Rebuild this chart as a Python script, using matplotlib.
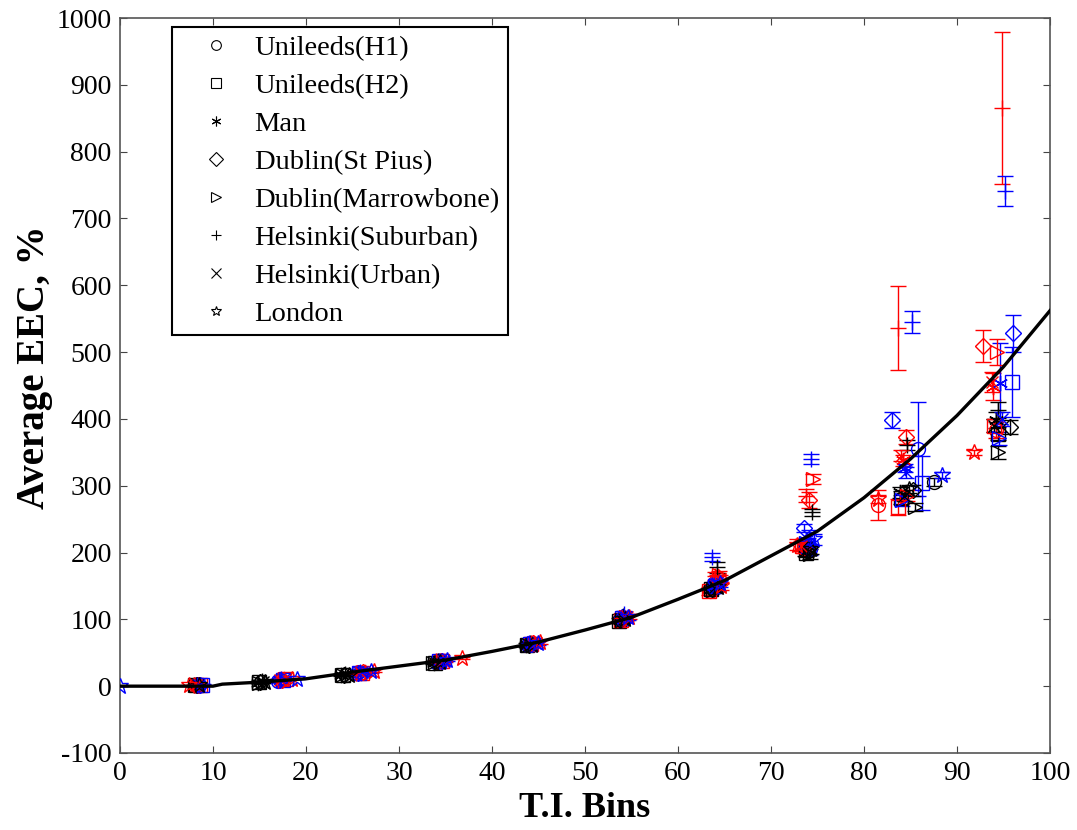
import numpy as np
import matplotlib
matplotlib.use("Agg")
import matplotlib.pyplot as plt
from matplotlib.lines import Line2D

nan = np.nan

# Fitted EEC curve against turbulence intensity
curve_ti = [0, 5, 10, 11, 15, 20, 25, 30, 35, 40, 45, 50, 55, 60, 65, 70, 75, 80, 85, 90, 95, 100]
curve_eec = [0, 0, 0, 3, 6, 11, 21, 30, 39, 52, 66, 84, 103, 130, 158, 195, 232, 282, 340, 405, 478, 562]

site_names = ["Unileeds(H1)", "Unileeds(H2)", "Man", "Dublin(St Pius)",
              "Dublin(Marrowbone)", "Helsinki(Suburban)", "Helsinki(Urban)", "London"]

# Per site: rows are black, red, blue series; columns are the T.I. bins
h1_x = [[8.3, 15.2, 24.3, 34.0, 43.9, 53.9, 63.8, 73.9, 87.5, nan],
        [8.4, 17.3, 25.8, 34.2, 44.3, 54.1, 63.4, 73.6, 81.5, 94.2],
        [8.5, 17.0, 25.5, 34.5, 44.0, 54.2, 64.1, 74.2, 85.8, nan]]
h1_y = [[1, 6, 17, 36, 62, 99, 146, 203, 305, nan],
        [1, 9, 20, 37, 63, 101, 143, 207, 271, 383],
        [1, 8, 19, 37, 62, 100, 148, 205, 355, nan]]
h1_e = [[0.5, 1, 1.5, 2, 3, 4, 5, 7, 6, nan],
        [0.5, 1, 2, 2, 3, 4, 6, 8, 22, 12],
        [0.5, 1, 2, 2, 3, 4, 6, 8, 70, nan]]

h2_x = [[8.2, 15.0, 24.0, 33.9, 43.8, 53.7, 63.6, 73.8, 84.0, 94.4],
        [8.6, 17.8, 26.0, 34.6, 44.2, 53.9, 63.3, 73.3, 83.7, 94.0],
        [8.8, 17.5, 25.7, 34.3, 44.1, 54.0, 64.0, 74.0, 86.2, 95.9]]
h2_y = [[1, 6, 17, 35, 61, 98, 145, 200, 282, 378],
        [1, 10, 20, 37, 63, 99, 142, 210, 268, 390],
        [2, 9, 20, 37, 63, 102, 150, 210, 304, 455]]
h2_e = [[0.5, 1, 1.5, 2, 3, 4, 5, 7, 10, 10],
        [0.5, 1, 2, 2, 3, 4, 6, 8, 12, 10],
        [0.5, 1, 2, 2, 3, 4, 6, 8, 41, 52]]

man_x = [[8.0, 14.8, 23.8, 33.8, 43.7, 53.8, 63.9, 74.1, 83.9, 94.2],
         [8.1, 17.6, 26.3, 34.8, 44.5, 54.3, 64.2, 73.4, 84.2, 93.9],
         [8.4, 17.2, 25.9, 34.4, 44.3, 54.1, 63.9, 74.0, 84.4, 94.6]]
man_y = [[1, 5, 16, 35, 61, 99, 147, 204, 290, 398],
         [1, 10, 21, 38, 64, 102, 160, 212, 338, 448],
         [1, 9, 20, 37, 63, 101, 150, 213, 326, 453]]
man_e = [[0.5, 1, 1.5, 2, 3, 4, 5, 7, 8, 12],
         [0.5, 1, 2, 2, 3, 4, 6, 8, 8, 20],
         [0.5, 1, 2, 2, 3, 4, 6, 8, 6, 60]]

pius_x = [[8.3, 15.1, 24.1, 34.1, 44.0, 53.8, 63.7, 74.0, 85.3, 95.7],
          [8.5, 17.4, 26.1, 34.5, 44.4, 54.2, 64.3, 74.1, 84.5, 92.8],
          [8.6, 17.1, 25.6, 34.6, 44.2, 54.0, 64.0, 73.5, 83.0, 96.0]]
pius_y = [[1, 6, 17, 36, 62, 99, 146, 205, 293, 388],
          [1, 9, 21, 37, 64, 102, 163, 278, 373, 509],
          [1, 9, 20, 38, 63, 103, 152, 236, 398, 528]]
pius_e = [[0.5, 1, 1.5, 2, 3, 4, 5, 7, 8, 10],
          [0.5, 1, 2, 2, 3, 4, 6, 12, 10, 24],
          [0.5, 1, 2, 2, 3, 4, 6, 6, 12, 28]]

marrow_x = [[8.1, 14.9, 23.9, 33.7, 43.9, 54.0, 63.8, 74.2, 85.5, 94.4],
            [8.7, 17.7, 26.2, 34.9, 44.6, 54.4, 64.4, 74.5, 84.6, 94.3],
            [8.9, 17.9, 26.4, 34.7, 44.5, 54.3, 64.1, 73.8, 84.1, 94.5]]
marrow_y = [[1, 5, 16, 35, 61, 99, 144, 198, 268, 350],
            [1, 10, 21, 38, 64, 103, 166, 310, 285, 500],
            [2, 10, 21, 38, 64, 102, 152, 214, 278, 371]]
marrow_e = [[0.5, 1, 1.5, 2, 3, 4, 5, 7, 6, 10],
            [0.5, 1, 2, 2, 3, 4, 6, 7, 8, 20],
            [0.5, 1, 2, 2, 3, 4, 6, 8, 8, 10]]

suburb_x = [[8.2, 15.3, 24.2, 34.2, 44.1, 54.1, 64.2, 74.4, 84.6, 94.4],
            [8.0, 17.0, 25.4, 34.0, 44.2, 54.0, 64.0, 73.8, 83.7, 94.8],
            [8.3, 17.3, 25.8, 34.3, 44.0, 54.2, 63.7, 74.3, 85.2, 95.2]]
suburb_y = [[2, 7, 18, 37, 64, 105, 178, 260, 361, 413],
            [1, 9, 20, 37, 64, 102, 165, 285, 536, 865],
            [2, 10, 21, 38, 65, 108, 193, 340, 545, 741]]
suburb_e = [[0.5, 1, 1.5, 2, 3, 4, 8, 5, 8, 12],
            [0.5, 1, 2, 2, 3, 4, 6, 10, 63, 114],
            [0.5, 1, 2, 2, 3, 4, 6, 8, 17, 23]]

urban_x = [[8.4, 15.4, 24.4, 34.3, 44.2, 54.2, 64.0, 73.7, 84.3, 94.0],
           [8.2, 17.2, 25.9, 34.7, 44.7, 54.5, 64.5, 73.2, 84.0, 93.8],
           [8.5, 17.6, 26.0, 34.8, 44.6, 54.4, 64.2, 74.1, 84.5, 94.8]]
urban_y = [[1, 6, 17, 36, 62, 100, 148, 202, 285, 390],
           [1, 9, 20, 38, 65, 103, 160, 210, 345, 455],
           [1, 10, 21, 38, 64, 103, 155, 225, 320, 400]]
urban_e = [[0.5, 1, 1.5, 2, 3, 4, 5, 7, 8, 10],
           [0.5, 1, 2, 2, 3, 4, 6, 8, 8, 15],
           [0.5, 1, 2, 2, 3, 4, 6, 8, 8, 10]]

london_x = [[8.5, 15.6, 24.6, 34.4, 44.3, 54.3, 64.3, 74.3, 84.8, nan],
            [7.4, 18.5, 27.3, 36.8, 45.2, 54.7, 64.6, 72.8, 81.5, 91.8],
            [0.0, 19.0, 27.0, 35.2, 45.0, 54.6, 64.5, 74.6, 88.4, nan]]
london_y = [[1, 6, 17, 36, 62, 100, 148, 205, 295, nan],
            [1, 11, 23, 42, 66, 104, 150, 212, 280, 350],
            [0, 11, 22, 39, 65, 103, 155, 220, 316, nan]]
london_e = [[0.5, 1, 1.5, 2, 3, 4, 5, 7, 6, nan],
            [0.5, 1, 2, 2, 3, 4, 6, 8, 6, 4],
            [0.5, 1, 2, 2, 3, 4, 6, 8, 5, nan]]

site_x = [h1_x, h2_x, man_x, pius_x, marrow_x, suburb_x, urban_x, london_x]
site_y = [h1_y, h2_y, man_y, pius_y, marrow_y, suburb_y, urban_y, london_y]
site_e = [h1_e, h2_e, man_e, pius_e, marrow_e, suburb_e, urban_e, london_e]

site_markers = ["o", "s", (6, 2, 0), "D", ">", "+", "x", "*"]
site_msize = [10, 10, 11, 8, 10, 12, 8, 12]
series_colors = ["black", "red", "blue"]

serif = ["Liberation Serif", "DejaVu Serif"]
plt.rcParams["font.family"] = serif
plt.rcParams["axes.unicode_minus"] = False

fig = plt.figure(figsize=(10.77, 8.30), dpi=100)
ax = fig.add_axes([0.1114, 0.0928, 0.8635, 0.8855])

for xs3, ys3, es3, mk, ms in zip(site_x, site_y, site_e, site_markers, site_msize):
    for xs, ys, es, col in zip(xs3, ys3, es3, series_colors):
        ax.errorbar(xs, ys, yerr=es, fmt="none", ecolor=col, elinewidth=1.0,
                    capsize=6, capthick=1.0, zorder=2)
        ax.plot(xs, ys, linestyle="none", marker=mk, markersize=ms,
                markerfacecolor="none", markeredgecolor=col,
                markeredgewidth=1.0, zorder=3)

ax.plot(curve_ti, curve_eec, color="black", linewidth=2.4, zorder=4)

ax.set_xlim(0, 100)
ax.set_ylim(-100, 1000)
ax.set_xticks(np.arange(0, 101, 10))
ax.set_yticks(np.arange(-100, 1001, 100))
ax.tick_params(direction="in", length=5, width=0.8, labelsize=20,
               top=True, right=True, colors="#444444", labelcolor="black", pad=6)
for sp in ax.spines.values():
    sp.set_color("#555555")
    sp.set_linewidth(1.2)

ax.set_xlabel("T.I. Bins", fontsize=26, fontweight="bold", labelpad=4)
ax.set_ylabel("Average EEC, %", fontsize=28, fontweight="bold")
ax.yaxis.set_label_coords(-0.072, 0.525)

handles = [Line2D([], [], linestyle="none", marker=mk, markersize=7,
                  markerfacecolor="none", markeredgecolor="black",
                  markeredgewidth=0.8)
           for mk in site_markers]
leg = ax.legend(handles, site_names, loc="upper left",
                bbox_to_anchor=(0.0559, 0.988), borderaxespad=0,
                fontsize=20.5, frameon=True, fancybox=False, framealpha=1,
                edgecolor="black", labelspacing=0.42, handlelength=2.5,
                handletextpad=0.1, borderpad=0.3)
leg.get_frame().set_linewidth(1.5)

fig.savefig("out.png", dpi=100)
